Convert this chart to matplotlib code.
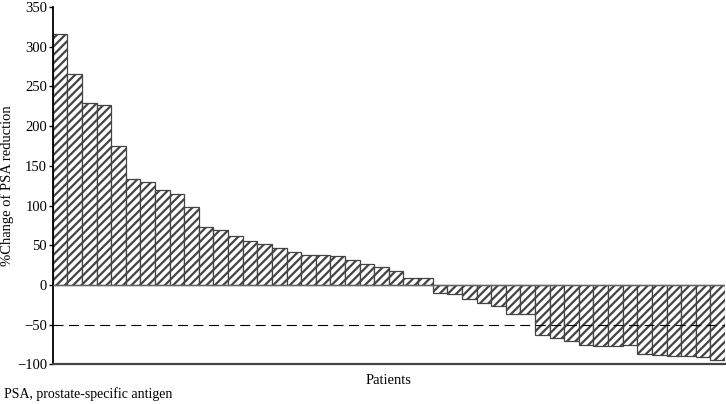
import numpy as np
import matplotlib
matplotlib.use('Agg')
import matplotlib.pyplot as plt

# PSA change per patient
psa_change = [316, 265, 229, 227, 175, 133, 129, 119, 115, 98,
              73, 69, 62, 55, 51, 47, 42, 38, 38, 36,
              31, 26, 23, 18, 9, 9, -10, -11, -18, -23,
              -27, -36, -37, -63, -67, -71, -75, -77, -77, -76,
              -87, -88, -89, -90, -91, -94]
yticks = [-100, -50, 0, 50, 100, 150, 200, 250, 300, 350]

plt.rcParams['font.family'] = ['Liberation Serif', 'DejaVu Serif']
plt.rcParams['hatch.linewidth'] = 1.6
plt.rcParams['hatch.color'] = 'black'

fig = plt.figure(figsize=(7.26, 4.04), dpi=100)
ax = fig.add_axes([0.0726, 0.098, 0.926, 0.885])

x = np.arange(len(psa_change))
ax.bar(x, psa_change, width=1.0, color='white', edgecolor='#444444',
       linewidth=0.9, hatch='////', zorder=2)

# reference lines
ax.axhline(0, color='#666666', linewidth=1.0, zorder=3)
ax.axhline(-50, color='black', linewidth=0.8, linestyle=(0, (9, 5)), zorder=3)

ax.set_xlim(-0.5, len(psa_change) - 0.5)
ax.set_ylim(-100, 350)
ax.set_yticks(yticks)
ax.set_xticks([])
ax.tick_params(axis='y', labelsize=10.5, length=3, width=1, pad=1)

for s in ['top', 'right']:
    ax.spines[s].set_visible(False)
ax.spines['left'].set_linewidth(1.3)
ax.spines['bottom'].set_linewidth(1.6)
ax.spines['bottom'].set_color('#444444')

ax.set_ylabel('%Change of PSA reduction', fontsize=10.5, labelpad=2)
ax.set_xlabel('Patients', fontsize=10.5, labelpad=7)

fig.text(0.006, 0.008, 'PSA, prostate-specific antigen', fontsize=10, ha='left', va='bottom')

fig.savefig('out.png', dpi=100)
